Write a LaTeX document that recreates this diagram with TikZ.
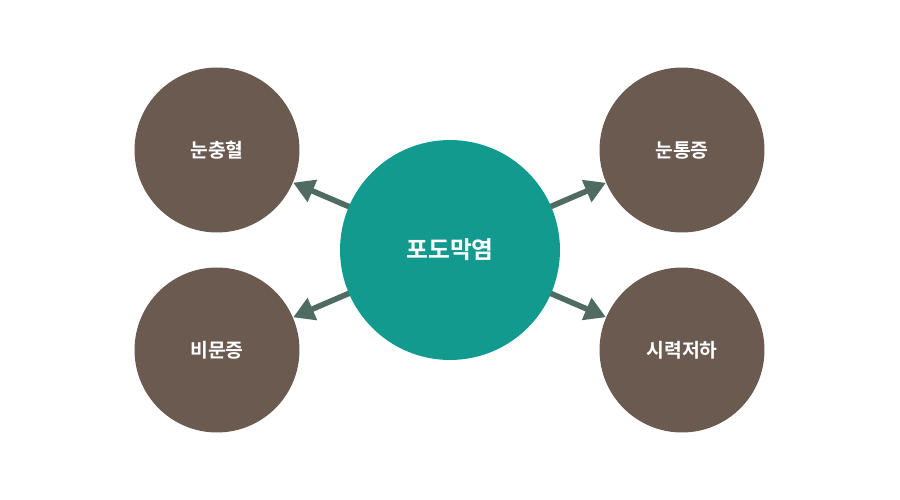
\documentclass[tikz,border=0pt]{standalone}
\usepackage{fontspec}
\newfontfamily\krfont{Noto Sans CJK KR}[BoldFont={Noto Sans CJK KR Bold}]
\usetikzlibrary{arrows.meta}
\definecolor{symbrown}{HTML}{6B5A50}
\definecolor{uveteal}{HTML}{139A8F}
\definecolor{linkgray}{HTML}{4F6B62}
\begin{document}
\begin{tikzpicture}[x=0.02cm,y=-0.02cm,every node/.style={font=\krfont\bfseries,text=white}]
    \tikzset{
      symptom/.style={circle,fill=symbrown,minimum size=3.3cm,inner sep=0pt,font=\krfont\bfseries\fontsize{11}{13}\selectfont},
      disease/.style={circle,fill=uveteal,minimum size=4.4cm,inner sep=0pt,font=\krfont\bfseries\fontsize{13.5}{15}\selectfont},
      link/.style={linkgray,line width=3.2pt,-{Triangle[length=0.42cm,width=0.46cm]}}
    }
    \useasboundingbox (0,0) rectangle (900,500);
    \foreach \x/\y/\nm/\lab in {217/150/nw/{눈충혈},682/150/ne/{눈통증},217/350/sw/{비문증},682/350/se/{시력저하}} {
      \node[symptom] (\nm) at (\x,\y) {\lab};
    }
    \foreach \nm in {nw,ne,sw,se} {
      \draw[link] (450,250) -- (\nm);
    }
    \node[disease] (uv) at (450,250) {포도막염};
  \end{tikzpicture}
\end{document}
